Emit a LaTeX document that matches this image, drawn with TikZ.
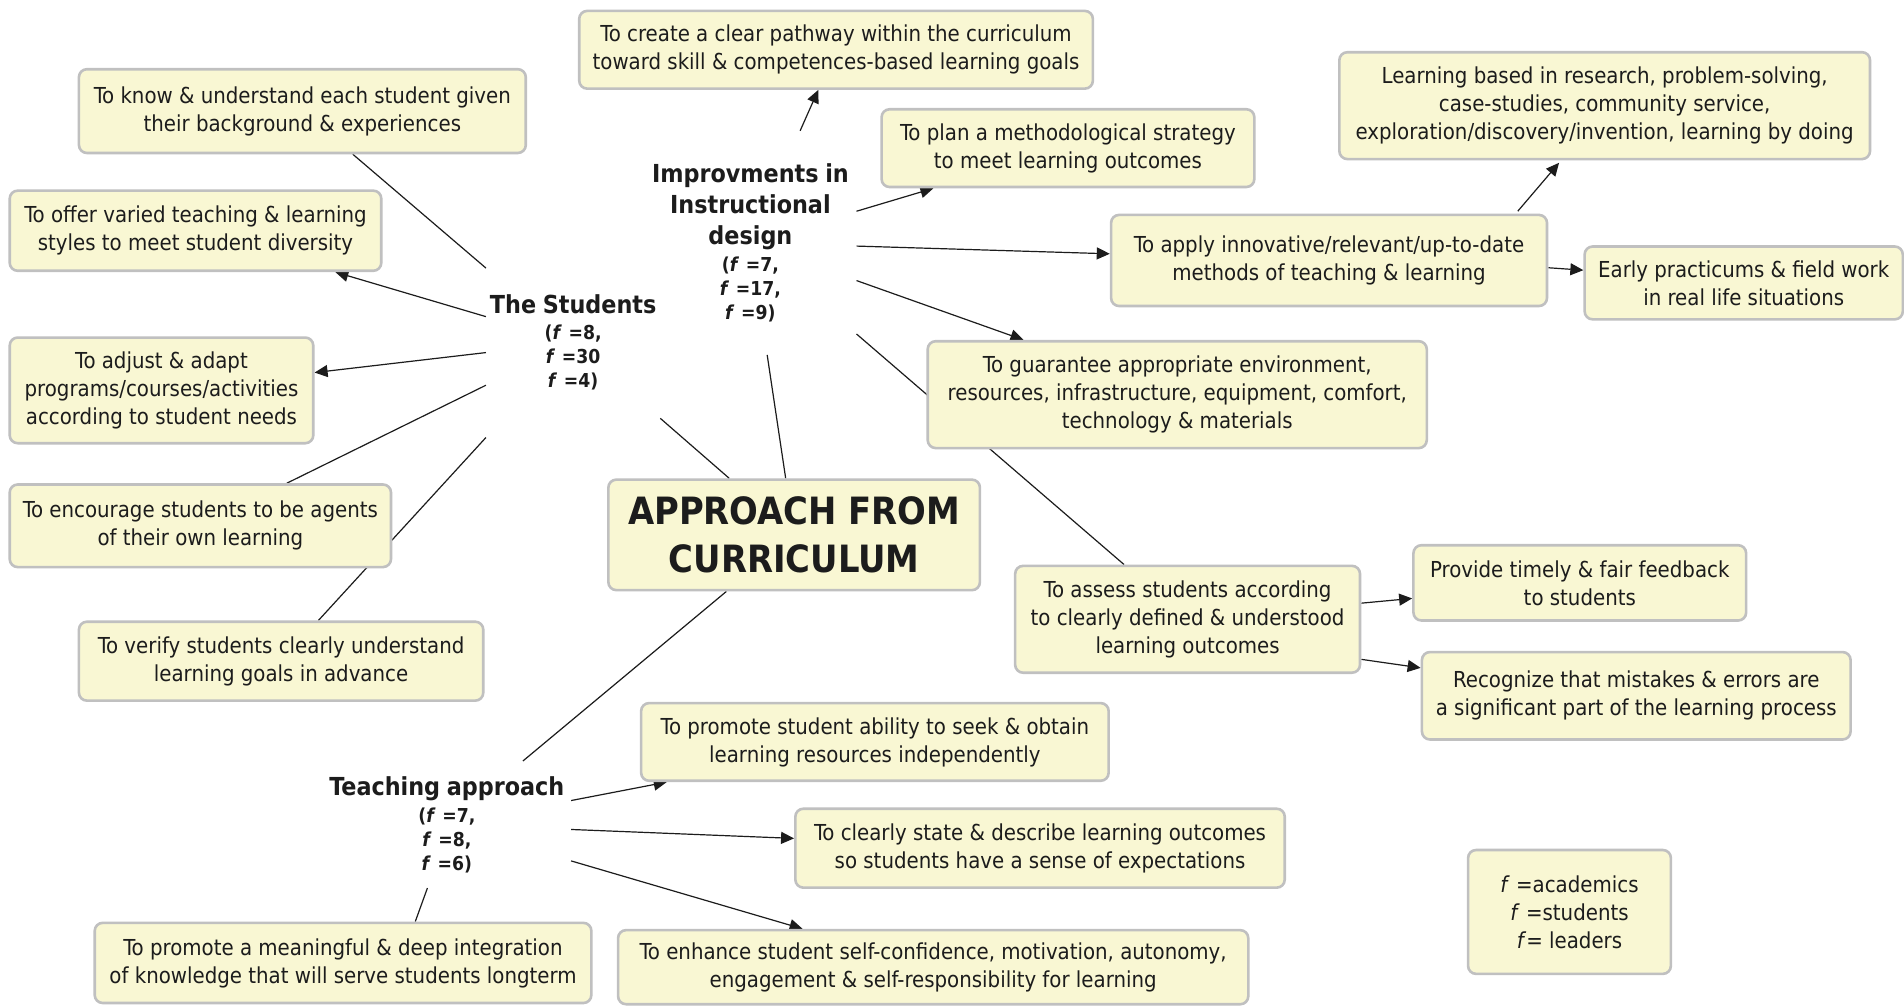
\documentclass[tikz,border=0pt]{standalone}
\usepackage{fontspec}
\setmainfont{DejaVu Sans Condensed}[
  BoldFont={DejaVu Sans Condensed Bold},
  ItalicFont={DejaVu Sans Condensed Oblique},
  BoldItalicFont={DejaVu Sans Condensed Bold Oblique}]
\usetikzlibrary{arrows.meta,calc}

\definecolor{boxfill}{RGB}{249,247,211}
\definecolor{boxline}{RGB}{192,192,192}
\definecolor{ink}{RGB}{28,28,28}

\pgfdeclarelayer{back}
\pgfdeclarelayer{edges}
\pgfsetlayers{back,edges,main}

% concept box given by its corners (x1,y1) and (x2,y2)
\newcommand\cbox[6]{%
  \node[box, minimum width={(#4-#2)*0.6072pt}, minimum height={(#5-#3)*0.6072pt}]
    (#1) at ({(#2+#4)/2},{(#3+#5)/2}) {#6};}
% hub label: bold title plus the frequency lines
\newcommand\hubtext[2]{%
  {\fontsize{12.4}{15.5}\selectfont\bfseries #1\par}%
  {\fontsize{9.6}{12}\selectfont\bfseries\vspace{1.4pt}#2\par}}
\newcommand\ff{\textit{f}}

\tikzset{
  box/.style={draw=boxline, fill=boxfill, line width=1.3pt, rounded corners=4pt,
    inner sep=2pt, align=center, text=ink, font=\fontsize{11}{14}\selectfont},
  hub/.style={inner sep=0pt, align=center, text=ink},
  link/.style={draw=ink, line width=0.6pt},
  arr/.style={link, -{Triangle[length=6.5pt,width=6pt]}},
}

\begin{document}
\begin{tikzpicture}[x=0.6072pt, y=-0.6072pt]
\useasboundingbox (0,0) rectangle (1568,829);
\begin{pgfonlayer}{back}
  \fill[white] (0,0) rectangle (1568,829);
\end{pgfonlayer}

% central concept
\node[box, font=\fontsize{18.8}{23.7}\selectfont\bfseries,
  minimum width={306*0.6072pt}, minimum height={91*0.6072pt}]
  (central) at (654,440.5) {APPROACH FROM\\CURRICULUM};

% hubs
\node[hub, text width=86.8pt, minimum height=97.2pt] (stud) at (472,282)
  {\hubtext{The Students}{(\ff\ =8,\\\ff\ =30\\\ff\ =4)}};
\node[hub, text width=105.7pt, minimum height=111.7pt] (imp) at (618,200)
  {\hubtext{Improvments in\\Instructional\\design}{(\ff\ =7,\\\ff\ =17,\\\ff\ =9)}};
\node[hub, text width=123.9pt, minimum height=63.1pt] (teach) at (368,679)
  {\hubtext{Teaching approach}{(\ff\ =7,\\\ff\ =8,\\\ff\ =6)}};

% the students
\cbox{know}{65}{57}{433}{126}{To know \& understand each student given\\their background \& experiences}
\cbox{offer}{8}{157}{314}{223}{To offer varied teaching \& learning\\styles to meet student diversity}
\cbox{adjust}{8}{278}{258}{365}{To adjust \& adapt\\programs/courses/activities\\according to student needs}
\cbox{enc}{8}{399}{322}{467}{To encourage students to be agents\\of their own learning}
\cbox{verify}{65}{512}{398}{577}{To verify students clearly understand\\learning goals in advance}

% instructional design
\cbox{create}{477}{9}{900}{73}{To create a clear pathway within the curriculum\\toward skill \& competences-based learning goals}
\cbox{plan}{726}{90}{1033}{154}{To plan a methodological strategy\\to meet learning outcomes}
\cbox{learn}{1103}{43}{1540}{131}{Learning based in research, problem-solving,\\case-studies, community service,\\exploration/discovery/invention, learning by doing}
\cbox{apply}{915}{177}{1274}{252}{To apply innovative/relevant/up-to-date\\methods of teaching \& learning}
\cbox{early}{1305}{203}{1567}{263}{Early practicums \& field work\\in real life situations}
\cbox{guar}{764}{281}{1175}{369}{To guarantee appropriate environment,\\resources, infrastructure, equipment, comfort,\\technology \& materials}
\cbox{assess}{836}{466}{1120}{554}{To assess students according\\to clearly defined \& understood\\learning outcomes}
\cbox{provide}{1164}{449}{1438}{511}{Provide timely \& fair feedback\\to students}
\cbox{recog}{1171}{537}{1524}{609}{Recognize that mistakes \& errors are\\a significant part of the learning process}

% teaching approach
\cbox{seek}{528}{579}{913}{643}{To promote student ability to seek \& obtain\\learning resources independently}
\cbox{state}{655}{666}{1058}{731}{To clearly state \& describe learning outcomes\\so students have a sense of expectations}
\cbox{enhance}{509}{766}{1028}{827}{To enhance student self-confidence, motivation, autonomy,\\engagement \& self-responsibility for learning}
\cbox{deep}{78}{760}{487}{826}{To promote a meaningful \& deep integration\\of knowledge that will serve students longterm}

% legend
\cbox{legend}{1209}{700}{1376}{802}{\ff\ =academics\\\ff\ =students\\\ff= leaders}

\begin{pgfonlayer}{edges}
  \draw[link] (central) -- (stud);
  \draw[link] (central) -- (imp);
  \draw[link] (central) -- (teach);

  \draw[link] (stud) -- (know);
  \draw[arr]  (stud) -- (offer);
  \draw[arr]  (stud) -- (adjust);
  \draw[link] (stud) -- (enc);
  \draw[link] (stud) -- (verify);

  \draw[arr]  (imp) -- (create);
  \draw[arr]  (imp) -- (plan);
  \draw[arr]  (imp) -- (apply);
  \draw[arr]  (imp) -- (guar);
  \draw[link] (imp) -- (assess);
  \draw[arr]  ($(apply.north west)+(336,-2)$) -- ($(learn.south west)+(182,2)$);
  \draw[arr]  ($(apply.east)+(0,6)$) -- ($(early.west)+(0,-10.5)$);
  \draw[arr]  (assess) -- (provide);
  \draw[arr]  ($(assess.east)+(0,33)$) -- ($(recog.west)+(0,-23)$);

  \draw[arr]  (teach) -- (seek);
  \draw[arr]  (teach) -- (state);
  \draw[arr]  (teach) -- (enhance);
  \draw[link] ($(teach.south)+(-16,0)$) -- ($(deep.north)+(59.5,0)$);
\end{pgfonlayer}
\end{tikzpicture}
\end{document}
